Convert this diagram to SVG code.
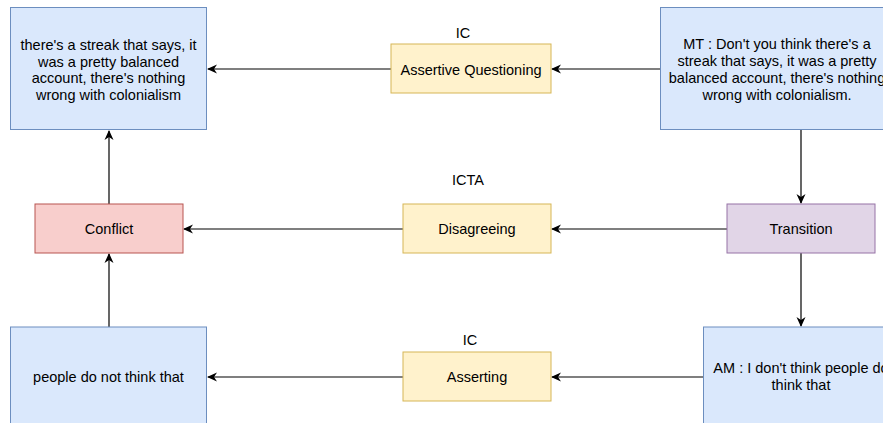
<svg xmlns="http://www.w3.org/2000/svg" width="883" height="423" viewBox="0 0 883 423">
<style>
text{font-family:"Liberation Sans",Arial,Helvetica,sans-serif;font-size:14.5px;fill:#000;text-anchor:middle}
.blue{fill:#dae8fc;stroke:#6c8ebf;stroke-width:1}
.red{fill:#f8cecc;stroke:#b85450;stroke-width:1}
.yel{fill:#fff2cc;stroke:#d6b656;stroke-width:1}
.pur{fill:#e1d5e7;stroke:#9673a6;stroke-width:1}
.edge{stroke:#000;stroke-width:1.2;fill:none;marker-end:url(#arr)}
</style>
<defs>
<marker id="arr" viewBox="0 0 10 10" refX="9" refY="5" markerWidth="10" markerHeight="10" markerUnits="userSpaceOnUse" orient="auto">
<path d="M0,0.5 L10,5 L0,9.5 L3,5 Z" fill="#000"/>
</marker>
</defs>
<rect width="883" height="423" fill="#fff"/>
<g id="connectors">
<line class="edge" x1="660" y1="69" x2="552" y2="69"/>
<line class="edge" x1="391" y1="69" x2="208" y2="69"/>
<line class="edge" x1="727" y1="229" x2="552" y2="229"/>
<line class="edge" x1="403" y1="229" x2="184" y2="229"/>
<line class="edge" x1="703" y1="377" x2="552" y2="377"/>
<line class="edge" x1="403" y1="377" x2="208" y2="377"/>
<line class="edge" x1="109" y1="204" x2="109" y2="131"/>
<line class="edge" x1="109" y1="327" x2="109" y2="254"/>
<line class="edge" x1="801" y1="130" x2="801" y2="203"/>
<line class="edge" x1="801" y1="253" x2="801" y2="326"/>
</g>
<g id="n-streak">
<rect class="blue" x="10.5" y="7.5" width="196" height="122"/>
<text x="108.5" y="50">there's a streak that says, it</text>
<text x="108.5" y="66.5">was a pretty balanced</text>
<text x="108.5" y="83">account, there's nothing</text>
<text x="108.5" y="99.5">wrong with colonialism</text>
</g>
<g id="n-mt">
<rect class="blue" x="660.5" y="7.5" width="240" height="122"/>
<text x="777" y="49">MT : Don't you think there's a</text>
<text x="777" y="66">streak that says, it was a pretty</text>
<text x="777" y="83">balanced account, there's nothing</text>
<text x="777" y="100">wrong with colonialism.</text>
</g>
<g id="n-aq">
<rect class="yel" x="391" y="44" width="160" height="49"/>
<text x="471" y="75">Assertive Questioning</text>
<text x="463" y="37.5">IC</text>
</g>
<g id="n-conflict">
<rect class="red" x="35" y="204" width="148" height="49"/>
<text x="109" y="234">Conflict</text>
</g>
<g id="n-disagreeing">
<rect class="yel" x="403" y="204" width="148" height="49"/>
<text x="477" y="234">Disagreeing</text>
<text x="468" y="185">ICTA</text>
</g>
<g id="n-transition">
<rect class="pur" x="727" y="204" width="148" height="49"/>
<text x="801" y="234">Transition</text>
</g>
<g id="n-people">
<rect class="blue" x="10.5" y="327" width="196" height="122"/>
<text x="108.5" y="382">people do not think that</text>
</g>
<g id="n-asserting">
<rect class="yel" x="403" y="352" width="148" height="49"/>
<text x="477" y="382">Asserting</text>
<text x="470" y="345">IC</text>
</g>
<g id="n-am">
<rect class="blue" x="703.5" y="327" width="196" height="122"/>
<text x="801" y="373">AM : I don't think people do</text>
<text x="801" y="390">think that</text>
</g>
</svg>
